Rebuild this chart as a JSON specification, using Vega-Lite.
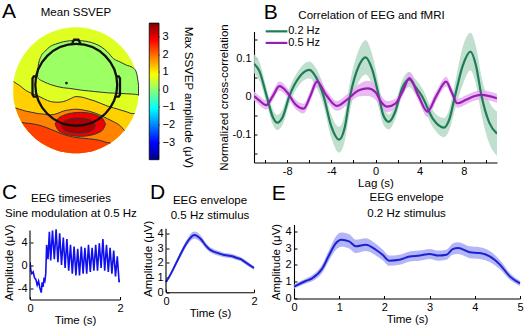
{
"$schema":"https://vega.github.io/schema/vega-lite/v6.json",
"padding":{"left":2,"top":0.5,"right":0,"bottom":0},
"config":{
 "font":"Liberation Sans",
 "view":{"stroke":null},
 "axis":{"labelFontSize":11,"titleFontSize":11.5,"titleFontWeight":"normal","labelColor":"#000","titleColor":"#000","domainColor":"#000","tickColor":"#000","domainWidth":1.1,"tickWidth":1,"tickSize":-3,"labelPadding":6,"grid":false,"labelFlush":false,"labelOverlap":false,"labelBound":false,"titlePadding":2}
},
"datasets":{
 "topo":[
  {"r":"band1","x":-0.99,"lo":-0.141,"hi":0.14,"v":1.2},
  {"r":"band1","x":-0.95,"lo":-0.312,"hi":0.11,"v":1.2},
  {"r":"band1","x":-0.9,"lo":-0.436,"hi":0.08,"v":1.2},
  {"r":"band1","x":-0.8,"lo":-0.6,"hi":0.0,"v":1.2},
  {"r":"band1","x":-0.7,"lo":-0.714,"hi":-0.05,"v":1.2},
  {"r":"band1","x":-0.6,"lo":-0.8,"hi":-0.09,"v":1.2},
  {"r":"band1","x":-0.5,"lo":-0.866,"hi":-0.14,"v":1.2},
  {"r":"band1","x":-0.4,"lo":-0.917,"hi":-0.18,"v":1.2},
  {"r":"band1","x":-0.3,"lo":-0.954,"hi":-0.19,"v":1.2},
  {"r":"band1","x":-0.2,"lo":-0.98,"hi":-0.18,"v":1.2},
  {"r":"band1","x":-0.1,"lo":-0.995,"hi":-0.14,"v":1.2},
  {"r":"band1","x":0.0,"lo":-1.0,"hi":-0.1,"v":1.2},
  {"r":"band1","x":0.1,"lo":-0.995,"hi":-0.11,"v":1.2},
  {"r":"band1","x":0.2,"lo":-0.98,"hi":-0.14,"v":1.2},
  {"r":"band1","x":0.3,"lo":-0.954,"hi":-0.17,"v":1.2},
  {"r":"band1","x":0.4,"lo":-0.917,"hi":-0.21,"v":1.2},
  {"r":"band1","x":0.5,"lo":-0.866,"hi":-0.25,"v":1.2},
  {"r":"band1","x":0.6,"lo":-0.8,"hi":-0.28,"v":1.2},
  {"r":"band1","x":0.7,"lo":-0.714,"hi":-0.31,"v":1.2},
  {"r":"band1","x":0.8,"lo":-0.6,"hi":-0.34,"v":1.2},
  {"r":"band1","x":0.9,"lo":-0.436,"hi":-0.37,"v":1.2},
  {"r":"band1","x":0.93,"lo":-0.367,"hi":-0.367,"v":1.2},
  {"r":"band2","x":-0.96,"lo":-0.28,"hi":-0.28,"v":1.8},
  {"r":"band2","x":-0.9,"lo":-0.436,"hi":-0.3,"v":1.8},
  {"r":"band2","x":-0.8,"lo":-0.6,"hi":-0.33,"v":1.8},
  {"r":"band2","x":-0.7,"lo":-0.714,"hi":-0.35,"v":1.8},
  {"r":"band2","x":-0.6,"lo":-0.8,"hi":-0.37,"v":1.8},
  {"r":"band2","x":-0.5,"lo":-0.866,"hi":-0.38,"v":1.8},
  {"r":"band2","x":-0.4,"lo":-0.917,"hi":-0.39,"v":1.8},
  {"r":"band2","x":-0.3,"lo":-0.954,"hi":-0.37,"v":1.8},
  {"r":"band2","x":-0.2,"lo":-0.98,"hi":-0.33,"v":1.8},
  {"r":"band2","x":-0.1,"lo":-0.995,"hi":-0.31,"v":1.8},
  {"r":"band2","x":0.0,"lo":-1.0,"hi":-0.3,"v":1.8},
  {"r":"band2","x":0.1,"lo":-0.995,"hi":-0.31,"v":1.8},
  {"r":"band2","x":0.2,"lo":-0.98,"hi":-0.33,"v":1.8},
  {"r":"band2","x":0.3,"lo":-0.954,"hi":-0.36,"v":1.8},
  {"r":"band2","x":0.4,"lo":-0.917,"hi":-0.4,"v":1.8},
  {"r":"band2","x":0.5,"lo":-0.866,"hi":-0.45,"v":1.8},
  {"r":"band2","x":0.6,"lo":-0.8,"hi":-0.5,"v":1.8},
  {"r":"band2","x":0.7,"lo":-0.714,"hi":-0.56,"v":1.8},
  {"r":"band2","x":0.77,"lo":-0.638,"hi":-0.638,"v":1.8},
  {"r":"band3","x":-0.86,"lo":-0.51,"hi":-0.51,"v":2.3},
  {"r":"band3","x":-0.8,"lo":-0.6,"hi":-0.52,"v":2.3},
  {"r":"band3","x":-0.7,"lo":-0.714,"hi":-0.53,"v":2.3},
  {"r":"band3","x":-0.6,"lo":-0.8,"hi":-0.55,"v":2.3},
  {"r":"band3","x":-0.5,"lo":-0.866,"hi":-0.58,"v":2.3},
  {"r":"band3","x":-0.4,"lo":-0.917,"hi":-0.62,"v":2.3},
  {"r":"band3","x":-0.3,"lo":-0.954,"hi":-0.66,"v":2.3},
  {"r":"band3","x":-0.2,"lo":-0.98,"hi":-0.7,"v":2.3},
  {"r":"band3","x":-0.1,"lo":-0.995,"hi":-0.73,"v":2.3},
  {"r":"band3","x":0.0,"lo":-1.0,"hi":-0.75,"v":2.3},
  {"r":"band3","x":0.1,"lo":-0.995,"hi":-0.76,"v":2.3},
  {"r":"band3","x":0.2,"lo":-0.98,"hi":-0.77,"v":2.3},
  {"r":"band3","x":0.3,"lo":-0.954,"hi":-0.78,"v":2.3},
  {"r":"band3","x":0.4,"lo":-0.917,"hi":-0.8,"v":2.3},
  {"r":"band3","x":0.5,"lo":-0.866,"hi":-0.83,"v":2.3},
  {"r":"band3","x":0.55,"lo":-0.835,"hi":-0.835,"v":2.3},
  {"r":"green","x":-0.61,"lo":0.22,"hi":0.22,"v":0.1},
  {"r":"green","x":-0.6,"lo":0.19,"hi":0.38,"v":0.1},
  {"r":"green","x":-0.55,"lo":0.155,"hi":0.55,"v":0.1},
  {"r":"green","x":-0.5,"lo":0.13,"hi":0.61,"v":0.1},
  {"r":"green","x":-0.4,"lo":0.09,"hi":0.7,"v":0.1},
  {"r":"green","x":-0.3,"lo":0.06,"hi":0.74,"v":0.1},
  {"r":"green","x":-0.2,"lo":0.04,"hi":0.77,"v":0.1},
  {"r":"green","x":-0.1,"lo":0.03,"hi":0.785,"v":0.1},
  {"r":"green","x":0.0,"lo":0.015,"hi":0.79,"v":0.1},
  {"r":"green","x":0.1,"lo":0.0,"hi":0.785,"v":0.1},
  {"r":"green","x":0.2,"lo":-0.01,"hi":0.77,"v":0.1},
  {"r":"green","x":0.3,"lo":-0.02,"hi":0.74,"v":0.1},
  {"r":"green","x":0.4,"lo":-0.03,"hi":0.69,"v":0.1},
  {"r":"green","x":0.5,"lo":-0.04,"hi":0.61,"v":0.1},
  {"r":"green","x":0.6,"lo":-0.045,"hi":0.5,"v":0.1},
  {"r":"green","x":0.7,"lo":-0.05,"hi":0.45,"v":0.1},
  {"r":"green","x":0.8,"lo":-0.055,"hi":0.4,"v":0.1},
  {"r":"green","x":0.9,"lo":-0.06,"hi":0.36,"v":0.1},
  {"r":"green","x":0.95,"lo":-0.065,"hi":0.31,"v":0.1},
  {"r":"green","x":0.98,"lo":-0.07,"hi":0.19,"v":0.1},
  {"r":"green","x":0.995,"lo":-0.08,"hi":0.08,"v":0.1},
  {"r":"blobO","x":-0.33,"lo":-0.54,"hi":-0.54,"v":2.9},
  {"r":"blobO","x":-0.29,"lo":-0.623,"hi":-0.457,"v":2.9},
  {"r":"blobO","x":-0.21,"lo":-0.676,"hi":-0.404,"v":2.9},
  {"r":"blobO","x":-0.13,"lo":-0.705,"hi":-0.375,"v":2.9},
  {"r":"blobO","x":-0.05,"lo":-0.721,"hi":-0.359,"v":2.9},
  {"r":"blobO","x":0.07,"lo":-0.73,"hi":-0.35,"v":2.9},
  {"r":"blobO","x":0.19,"lo":-0.721,"hi":-0.359,"v":2.9},
  {"r":"blobO","x":0.27,"lo":-0.705,"hi":-0.375,"v":2.9},
  {"r":"blobO","x":0.35,"lo":-0.676,"hi":-0.404,"v":2.9},
  {"r":"blobO","x":0.43,"lo":-0.623,"hi":-0.457,"v":2.9},
  {"r":"blobO","x":0.47,"lo":-0.54,"hi":-0.54,"v":2.9},
  {"r":"blobI","x":-0.23,"lo":-0.56,"hi":-0.56,"v":3.4},
  {"r":"blobI","x":-0.203,"lo":-0.612,"hi":-0.508,"v":3.4},
  {"r":"blobI","x":-0.149,"lo":-0.646,"hi":-0.474,"v":3.4},
  {"r":"blobI","x":-0.095,"lo":-0.664,"hi":-0.456,"v":3.4},
  {"r":"blobI","x":-0.041,"lo":-0.674,"hi":-0.446,"v":3.4},
  {"r":"blobI","x":0.04,"lo":-0.68,"hi":-0.44,"v":3.4},
  {"r":"blobI","x":0.121,"lo":-0.674,"hi":-0.446,"v":3.4},
  {"r":"blobI","x":0.175,"lo":-0.664,"hi":-0.456,"v":3.4},
  {"r":"blobI","x":0.229,"lo":-0.646,"hi":-0.474,"v":3.4},
  {"r":"blobI","x":0.283,"lo":-0.612,"hi":-0.508,"v":3.4},
  {"r":"blobI","x":0.31,"lo":-0.56,"hi":-0.56,"v":3.4}
 ],
 "head":[
  {"p":"nose","i":0,"x":-0.065,"y":0.732},
  {"p":"nose","i":1,"x":-0.03,"y":0.805},
  {"p":"nose","i":2,"x":0.04,"y":0.805},
  {"p":"nose","i":3,"x":0.075,"y":0.732},
  {"p":"earL","i":0,"x":-0.636,"y":0.22},
  {"p":"earL","i":1,"x":-0.67,"y":0.22},
  {"p":"earL","i":2,"x":-0.69,"y":0.19},
  {"p":"earL","i":3,"x":-0.69,"y":-0.07},
  {"p":"earL","i":4,"x":-0.67,"y":-0.1},
  {"p":"earL","i":5,"x":-0.623,"y":-0.1},
  {"p":"earR","i":0,"x":0.646,"y":0.22},
  {"p":"earR","i":1,"x":0.68,"y":0.22},
  {"p":"earR","i":2,"x":0.7,"y":0.19},
  {"p":"earR","i":3,"x":0.7,"y":-0.07},
  {"p":"earR","i":4,"x":0.68,"y":-0.1},
  {"p":"earR","i":5,"x":0.633,"y":-0.1}
 ],
 "xcorr":[
  {"s":"0.2 Hz","x":-11,"y":0.085,"lo":0.06,"hi":0.11},
  {"s":"0.2 Hz","x":-10.5,"y":0.065,"lo":0.041,"hi":0.089},
  {"s":"0.2 Hz","x":-9.9,"y":0.005,"lo":-0.015,"hi":0.025},
  {"s":"0.2 Hz","x":-9.3,"y":-0.055,"lo":-0.075,"hi":-0.035},
  {"s":"0.2 Hz","x":-8.9,"y":-0.07,"lo":-0.09,"hi":-0.05},
  {"s":"0.2 Hz","x":-8.4,"y":-0.055,"lo":-0.075,"hi":-0.035},
  {"s":"0.2 Hz","x":-7.8,"y":0.0,"lo":-0.02,"hi":0.02},
  {"s":"0.2 Hz","x":-6.9,"y":0.05,"lo":0.03,"hi":0.07},
  {"s":"0.2 Hz","x":-6.0,"y":0.069,"lo":0.047,"hi":0.091},
  {"s":"0.2 Hz","x":-5.3,"y":0.045,"lo":0.021,"hi":0.069},
  {"s":"0.2 Hz","x":-4.7,"y":0.0,"lo":-0.026,"hi":0.026},
  {"s":"0.2 Hz","x":-4.0,"y":-0.08,"lo":-0.11,"hi":-0.05},
  {"s":"0.2 Hz","x":-3.3,"y":-0.115,"lo":-0.149,"hi":-0.081},
  {"s":"0.2 Hz","x":-2.8,"y":-0.085,"lo":-0.121,"hi":-0.049},
  {"s":"0.2 Hz","x":-2.3,"y":0.0,"lo":-0.038,"hi":0.038},
  {"s":"0.2 Hz","x":-1.5,"y":0.08,"lo":0.038,"hi":0.122},
  {"s":"0.2 Hz","x":-0.9,"y":0.102,"lo":0.057,"hi":0.147},
  {"s":"0.2 Hz","x":-0.3,"y":0.07,"lo":0.03,"hi":0.11},
  {"s":"0.2 Hz","x":0.3,"y":0.0,"lo":-0.03,"hi":0.03},
  {"s":"0.2 Hz","x":0.7,"y":-0.05,"lo":-0.074,"hi":-0.026},
  {"s":"0.2 Hz","x":1.2,"y":-0.068,"lo":-0.088,"hi":-0.048},
  {"s":"0.2 Hz","x":1.8,"y":-0.04,"lo":-0.06,"hi":-0.02},
  {"s":"0.2 Hz","x":2.4,"y":0.02,"lo":0.0,"hi":0.04},
  {"s":"0.2 Hz","x":3.07,"y":0.044,"lo":0.024,"hi":0.064},
  {"s":"0.2 Hz","x":3.6,"y":0.025,"lo":0.005,"hi":0.045},
  {"s":"0.2 Hz","x":4.2,"y":0.0,"lo":-0.022,"hi":0.022},
  {"s":"0.2 Hz","x":5.2,"y":-0.06,"lo":-0.082,"hi":-0.038},
  {"s":"0.2 Hz","x":6.2,"y":-0.083,"lo":-0.108,"hi":-0.058},
  {"s":"0.2 Hz","x":6.7,"y":-0.06,"lo":-0.088,"hi":-0.032},
  {"s":"0.2 Hz","x":7.2,"y":0.0,"lo":-0.035,"hi":0.035},
  {"s":"0.2 Hz","x":7.9,"y":0.08,"lo":0.03,"hi":0.13},
  {"s":"0.2 Hz","x":8.6,"y":0.117,"lo":0.067,"hi":0.167},
  {"s":"0.2 Hz","x":9.1,"y":0.08,"lo":0.03,"hi":0.13},
  {"s":"0.2 Hz","x":9.6,"y":0.0,"lo":-0.05,"hi":0.05},
  {"s":"0.2 Hz","x":10.3,"y":-0.07,"lo":-0.125,"hi":-0.015},
  {"s":"0.2 Hz","x":11,"y":-0.099,"lo":-0.157,"hi":-0.041},
  {"s":"0.5 Hz","x":-11,"y":0.0,"lo":-0.012,"hi":0.012},
  {"s":"0.5 Hz","x":-10.5,"y":-0.012,"lo":-0.024,"hi":0.0},
  {"s":"0.5 Hz","x":-9.9,"y":-0.024,"lo":-0.036,"hi":-0.012},
  {"s":"0.5 Hz","x":-9.3,"y":0.0,"lo":-0.012,"hi":0.012},
  {"s":"0.5 Hz","x":-8.7,"y":0.026,"lo":0.014,"hi":0.038},
  {"s":"0.5 Hz","x":-8.0,"y":0.01,"lo":-0.002,"hi":0.022},
  {"s":"0.5 Hz","x":-7.3,"y":-0.02,"lo":-0.032,"hi":-0.008},
  {"s":"0.5 Hz","x":-6.5,"y":-0.033,"lo":-0.046,"hi":-0.02},
  {"s":"0.5 Hz","x":-5.9,"y":0.0,"lo":-0.014,"hi":0.014},
  {"s":"0.5 Hz","x":-5.3,"y":0.038,"lo":0.023,"hi":0.053},
  {"s":"0.5 Hz","x":-4.4,"y":0.0,"lo":-0.014,"hi":0.014},
  {"s":"0.5 Hz","x":-3.5,"y":-0.026,"lo":-0.039,"hi":-0.013},
  {"s":"0.5 Hz","x":-2.6,"y":-0.01,"lo":-0.024,"hi":0.004},
  {"s":"0.5 Hz","x":-1.5,"y":0.015,"lo":-0.001,"hi":0.031},
  {"s":"0.5 Hz","x":-0.7,"y":0.02,"lo":0.0,"hi":0.04},
  {"s":"0.5 Hz","x":0.0,"y":0.01,"lo":-0.01,"hi":0.03},
  {"s":"0.5 Hz","x":0.5,"y":-0.015,"lo":-0.033,"hi":0.003},
  {"s":"0.5 Hz","x":1.05,"y":-0.028,"lo":-0.043,"hi":-0.013},
  {"s":"0.5 Hz","x":1.8,"y":-0.02,"lo":-0.033,"hi":-0.007},
  {"s":"0.5 Hz","x":2.5,"y":0.015,"lo":0.002,"hi":0.028},
  {"s":"0.5 Hz","x":3.07,"y":0.047,"lo":0.032,"hi":0.062},
  {"s":"0.5 Hz","x":3.9,"y":0.0,"lo":-0.014,"hi":0.014},
  {"s":"0.5 Hz","x":4.7,"y":-0.041,"lo":-0.055,"hi":-0.027},
  {"s":"0.5 Hz","x":5.5,"y":0.0,"lo":-0.013,"hi":0.013},
  {"s":"0.5 Hz","x":6.4,"y":0.038,"lo":0.025,"hi":0.051},
  {"s":"0.5 Hz","x":6.9,"y":0.01,"lo":-0.002,"hi":0.022},
  {"s":"0.5 Hz","x":7.4,"y":-0.019,"lo":-0.031,"hi":-0.007},
  {"s":"0.5 Hz","x":8.2,"y":-0.01,"lo":-0.022,"hi":0.002},
  {"s":"0.5 Hz","x":9.0,"y":0.0,"lo":-0.012,"hi":0.012},
  {"s":"0.5 Hz","x":9.6,"y":0.003,"lo":-0.009,"hi":0.015},
  {"s":"0.5 Hz","x":10.3,"y":0.0,"lo":-0.012,"hi":0.012},
  {"s":"0.5 Hz","x":11,"y":-0.006,"lo":-0.018,"hi":0.006}
 ],
 "eeg":[
  {"t":0.0,"a":0.5},{"t":0.02,"a":-1.0},{"t":0.04,"a":-1.5},{"t":0.07,"a":-1.2},{"t":0.1,"a":-2.2},
  {"t":0.13,"a":-2.5},{"t":0.16,"a":-3.5},{"t":0.19,"a":-2.8},{"t":0.22,"a":-4.0},{"t":0.25,"a":-4.8},
  {"t":0.27,"a":-3.0},{"t":0.29,"a":-3.8},{"t":0.31,"a":-2.5},{"t":0.33,"a":-2.8},{"t":0.35,"a":-1.5},
  {"t":0.37,"a":3.5},{"t":0.4,"a":1.0},{"t":0.43,"a":5.8},{"t":0.46,"a":0.8},{"t":0.5,"a":6.0},
  {"t":0.54,"a":1.0},{"t":0.58,"a":6.2},{"t":0.62,"a":0.5},{"t":0.66,"a":5.5},{"t":0.7,"a":0.0},
  {"t":0.74,"a":4.8},{"t":0.78,"a":-0.5},{"t":0.82,"a":4.5},{"t":0.86,"a":-1.0},{"t":0.9,"a":3.5},
  {"t":0.94,"a":-1.5},{"t":0.98,"a":3.2},{"t":1.02,"a":-1.8},{"t":1.06,"a":2.8},{"t":1.1,"a":-1.8},
  {"t":1.14,"a":3.2},{"t":1.18,"a":-1.5},{"t":1.22,"a":3.0},{"t":1.26,"a":-1.5},{"t":1.3,"a":3.5},
  {"t":1.34,"a":-1.2},{"t":1.38,"a":3.0},{"t":1.42,"a":-1.0},{"t":1.46,"a":3.5},{"t":1.5,"a":-1.0},
  {"t":1.54,"a":3.8},{"t":1.58,"a":-0.5},{"t":1.62,"a":4.5},{"t":1.66,"a":-1.0},{"t":1.7,"a":3.5},
  {"t":1.74,"a":-1.2},{"t":1.78,"a":3.0},{"t":1.82,"a":-1.5},{"t":1.86,"a":2.5},{"t":1.9,"a":-2.0},
  {"t":1.94,"a":1.5},{"t":1.98,"a":-3.0},{"t":2.0,"a":-2.5}
 ],
 "envD":[
  {"t":0.0,"y":0.7,"lo":0.58,"hi":0.82},{"t":0.1,"y":1.2,"lo":1.07,"hi":1.33},{"t":0.2,"y":1.8,"lo":1.65,"hi":1.95},
  {"t":0.3,"y":2.4,"lo":2.23,"hi":2.57},{"t":0.4,"y":3.0,"lo":2.8,"hi":3.2},{"t":0.5,"y":3.5,"lo":3.28,"hi":3.72},
  {"t":0.6,"y":3.85,"lo":3.6,"hi":4.1},{"t":0.65,"y":3.9,"lo":3.65,"hi":4.15},{"t":0.7,"y":3.85,"lo":3.6,"hi":4.1},
  {"t":0.8,"y":3.6,"lo":3.38,"hi":3.82},{"t":0.9,"y":3.2,"lo":3.0,"hi":3.4},{"t":1.0,"y":2.9,"lo":2.72,"hi":3.08},
  {"t":1.1,"y":2.75,"lo":2.58,"hi":2.92},{"t":1.2,"y":2.65,"lo":2.49,"hi":2.81},{"t":1.3,"y":2.55,"lo":2.4,"hi":2.7},
  {"t":1.4,"y":2.5,"lo":2.35,"hi":2.65},{"t":1.5,"y":2.45,"lo":2.3,"hi":2.6},{"t":1.6,"y":2.35,"lo":2.2,"hi":2.5},
  {"t":1.7,"y":2.25,"lo":2.11,"hi":2.39},{"t":1.8,"y":2.05,"lo":1.91,"hi":2.19},{"t":1.9,"y":1.85,"lo":1.72,"hi":1.98},
  {"t":2.0,"y":1.65,"lo":1.52,"hi":1.78}
 ],
 "envE":[
  {"t":0.0,"y":0.7,"lo":0.58,"hi":0.82},{"t":0.26,"y":1.04,"lo":0.89,"hi":1.19},{"t":0.4,"y":1.2,"lo":1.02,"hi":1.38},
  {"t":0.63,"y":1.8,"lo":1.55,"hi":2.05},{"t":0.78,"y":2.6,"lo":2.28,"hi":2.92},{"t":0.93,"y":3.3,"lo":2.9,"hi":3.7},
  {"t":1.04,"y":3.5,"lo":3.08,"hi":3.92},{"t":1.22,"y":3.4,"lo":2.98,"hi":3.82},{"t":1.37,"y":3.1,"lo":2.7,"hi":3.5},
  {"t":1.59,"y":3.2,"lo":2.82,"hi":3.58},{"t":1.81,"y":2.9,"lo":2.55,"hi":3.25},{"t":1.96,"y":2.6,"lo":2.28,"hi":2.92},
  {"t":2.11,"y":2.25,"lo":1.95,"hi":2.55},{"t":2.33,"y":2.3,"lo":2.0,"hi":2.6},{"t":2.56,"y":2.5,"lo":2.2,"hi":2.8},
  {"t":2.78,"y":2.55,"lo":2.25,"hi":2.85},{"t":3.0,"y":2.65,"lo":2.35,"hi":2.95},{"t":3.19,"y":2.55,"lo":2.25,"hi":2.85},
  {"t":3.37,"y":2.6,"lo":2.3,"hi":2.9},{"t":3.52,"y":2.95,"lo":2.62,"hi":3.28},{"t":3.63,"y":3.0,"lo":2.65,"hi":3.35},
  {"t":3.89,"y":2.75,"lo":2.4,"hi":3.1},{"t":4.11,"y":2.7,"lo":2.35,"hi":3.05},{"t":4.33,"y":2.5,"lo":2.17,"hi":2.83},
  {"t":4.56,"y":2.0,"lo":1.72,"hi":2.28},{"t":4.78,"y":1.3,"lo":1.1,"hi":1.5},{"t":5.0,"y":0.9,"lo":0.75,"hi":1.05}
 ]
},
"spacing":-8,
"vconcat":[
 {"hconcat":[
  {"width":146,"height":131,
   "layer":[
    {"layer":[
     {"data":{"values":[{}]},"mark":{"type":"point","filled":true,"size":15876,"strokeWidth":0,"opacity":1,"shape":"circle"},
      "encoding":{"x":{"datum":0,"type":"quantitative","scale":{"domain":[-1,1.32],"nice":false,"zero":false},"axis":null},
                  "y":{"datum":0,"type":"quantitative","scale":{"domain":[-1.146,0.933],"nice":false,"zero":false},"axis":null},
                  "color":{"datum":0.6,"type":"quantitative","scale":{"type":"linear","domain":[-4,-3.03,-1.09,0.85,2.79,3.76],"range":["#00008f","#0000ff","#00ffff","#ffff00","#ff0000","#800000"],"interpolate":"rgb"},"legend":null}}},
     {"data":{"name":"topo"},"transform":[{"filter":"datum.r==='band1'"}],"mark":{"type":"area","interpolate":"monotone"},
      "encoding":{"x":{"field":"x","type":"quantitative","scale":{"domain":[-1,1.32],"nice":false,"zero":false},"axis":null},
                  "y":{"field":"lo","type":"quantitative","scale":{"domain":[-1.146,0.933],"nice":false,"zero":false},"axis":null,"stack":null},"y2":{"field":"hi"},
                  "color":{"field":"v","type":"quantitative","scale":{"type":"linear","domain":[-4,-3.03,-1.09,0.85,2.79,3.76],"range":["#00008f","#0000ff","#00ffff","#ffff00","#ff0000","#800000"],"interpolate":"rgb"},"legend":null}}},
     {"data":{"name":"topo"},"transform":[{"filter":"datum.r==='band2'"}],"mark":{"type":"area","interpolate":"monotone"},
      "encoding":{"x":{"field":"x","type":"quantitative","scale":{"domain":[-1,1.32],"nice":false,"zero":false},"axis":null},
                  "y":{"field":"lo","type":"quantitative","scale":{"domain":[-1.146,0.933],"nice":false,"zero":false},"axis":null,"stack":null},"y2":{"field":"hi"},
                  "color":{"field":"v","type":"quantitative","scale":{"type":"linear","domain":[-4,-3.03,-1.09,0.85,2.79,3.76],"range":["#00008f","#0000ff","#00ffff","#ffff00","#ff0000","#800000"],"interpolate":"rgb"},"legend":null}}},
     {"data":{"name":"topo"},"transform":[{"filter":"datum.r==='band3'"}],"mark":{"type":"area","interpolate":"monotone"},
      "encoding":{"x":{"field":"x","type":"quantitative","scale":{"domain":[-1,1.32],"nice":false,"zero":false},"axis":null},
                  "y":{"field":"lo","type":"quantitative","scale":{"domain":[-1.146,0.933],"nice":false,"zero":false},"axis":null,"stack":null},"y2":{"field":"hi"},
                  "color":{"field":"v","type":"quantitative","scale":{"type":"linear","domain":[-4,-3.03,-1.09,0.85,2.79,3.76],"range":["#00008f","#0000ff","#00ffff","#ffff00","#ff0000","#800000"],"interpolate":"rgb"},"legend":null}}},
     {"data":{"name":"topo"},"transform":[{"filter":"datum.r==='green'"}],"mark":{"type":"area","interpolate":"monotone","stroke":"#333","strokeWidth":1},
      "encoding":{"x":{"field":"x","type":"quantitative","scale":{"domain":[-1,1.32],"nice":false,"zero":false},"axis":null},
                  "y":{"field":"lo","type":"quantitative","scale":{"domain":[-1.146,0.933],"nice":false,"zero":false},"axis":null,"stack":null},"y2":{"field":"hi"},
                  "color":{"field":"v","type":"quantitative","scale":{"type":"linear","domain":[-4,-3.03,-1.09,0.85,2.79,3.76],"range":["#00008f","#0000ff","#00ffff","#ffff00","#ff0000","#800000"],"interpolate":"rgb"},"legend":null}}},
     {"data":{"name":"topo"},"transform":[{"filter":"datum.r==='blobO'"}],"mark":{"type":"area","interpolate":"monotone","stroke":"#333","strokeWidth":1},
      "encoding":{"x":{"field":"x","type":"quantitative","scale":{"domain":[-1,1.32],"nice":false,"zero":false},"axis":null},
                  "y":{"field":"lo","type":"quantitative","scale":{"domain":[-1.146,0.933],"nice":false,"zero":false},"axis":null,"stack":null},"y2":{"field":"hi"},
                  "color":{"field":"v","type":"quantitative","scale":{"type":"linear","domain":[-4,-3.03,-1.09,0.85,2.79,3.76],"range":["#00008f","#0000ff","#00ffff","#ffff00","#ff0000","#800000"],"interpolate":"rgb"},"legend":null}}},
     {"data":{"name":"topo"},"transform":[{"filter":"datum.r==='blobI'"}],"mark":{"type":"area","interpolate":"monotone","stroke":"#333","strokeWidth":1},
      "encoding":{"x":{"field":"x","type":"quantitative","scale":{"domain":[-1,1.32],"nice":false,"zero":false},"axis":null},
                  "y":{"field":"lo","type":"quantitative","scale":{"domain":[-1.146,0.933],"nice":false,"zero":false},"axis":null,"stack":null},"y2":{"field":"hi"},
                  "color":{"field":"v","type":"quantitative","scale":{"type":"linear","domain":[-4,-3.03,-1.09,0.85,2.79,3.76],"range":["#00008f","#0000ff","#00ffff","#ffff00","#ff0000","#800000"],"interpolate":"rgb"},"legend":null}}},
     {"data":{"name":"topo"},"transform":[{"filter":"datum.r==='band1' || datum.r==='band2' || datum.r==='band3'"}],"mark":{"type":"line","color":"#333","strokeWidth":1,"interpolate":"monotone"},
      "encoding":{"x":{"field":"x","type":"quantitative","scale":{"domain":[-1,1.32],"nice":false,"zero":false},"axis":null},
                  "y":{"field":"hi","type":"quantitative","scale":{"domain":[-1.146,0.933],"nice":false,"zero":false},"axis":null},
                  "detail":{"field":"r","type":"nominal"}}},
     {"data":{"values":[{}]},"mark":{"type":"point","filled":false,"size":6708,"strokeWidth":2.3,"color":"#111","opacity":1,"shape":"circle"},
      "encoding":{"x":{"datum":0.005,"type":"quantitative","scale":{"domain":[-1,1.32],"nice":false,"zero":false},"axis":null},
                  "y":{"datum":0.087,"type":"quantitative","scale":{"domain":[-1.146,0.933],"nice":false,"zero":false},"axis":null}}},
     {"data":{"name":"head"},"mark":{"type":"line","color":"#111","strokeWidth":2.3},
      "encoding":{"x":{"field":"x","type":"quantitative","scale":{"domain":[-1,1.32],"nice":false,"zero":false},"axis":null},
                  "y":{"field":"y","type":"quantitative","scale":{"domain":[-1.146,0.933],"nice":false,"zero":false},"axis":null},
                  "detail":{"field":"p","type":"nominal"},"order":{"field":"i","type":"quantitative"}}},
     {"data":{"values":[{}]},"mark":{"type":"point","filled":true,"size":8,"color":"#222","opacity":1},
      "encoding":{"x":{"datum":-0.15,"type":"quantitative","scale":{"domain":[-1,1.32],"nice":false,"zero":false},"axis":null},
                  "y":{"datum":0.114,"type":"quantitative","scale":{"domain":[-1.146,0.933],"nice":false,"zero":false},"axis":null}}},
     {"data":{"values":[{}]},"mark":{"type":"text","text":"A","fontSize":21,"align":"left","baseline":"alphabetic"},
      "encoding":{"x":{"datum":-1.1746,"type":"quantitative","scale":{"domain":[-1,1.32],"nice":false,"zero":false},"axis":null},
                  "y":{"datum":1.143,"type":"quantitative","scale":{"domain":[-1.146,0.933],"nice":false,"zero":false},"axis":null}}},
     {"data":{"values":[{}]},"mark":{"type":"text","text":"Mean SSVEP","fontSize":11.5,"align":"center","baseline":"alphabetic"},
      "encoding":{"x":{"datum":0,"type":"quantitative","scale":{"domain":[-1,1.32],"nice":false,"zero":false},"axis":null},
                  "y":{"datum":1.175,"type":"quantitative","scale":{"domain":[-1.146,0.933],"nice":false,"zero":false},"axis":null}}}
    ]},
    {"data":{"values":[{}]},
     "mark":{"type":"rect","fill":{"x1":0,"y1":1,"x2":0,"y2":0,"gradient":"linear","stops":[{"offset":0,"color":"#00008f"},{"offset":0.125,"color":"#0000ff"},{"offset":0.375,"color":"#00ffff"},{"offset":0.625,"color":"#ffff00"},{"offset":0.875,"color":"#ff0000"},{"offset":1,"color":"#800000"}]},"stroke":"#000","strokeWidth":0.8},
     "encoding":{"x":{"datum":1.165,"type":"quantitative","scale":{"domain":[-1,1.32],"nice":false,"zero":false},"axis":null},"x2":{"datum":1.32},
                 "y":{"datum":-4,"type":"quantitative","scale":{"domain":[-4.159,3.284],"nice":false,"zero":false},
                      "axis":{"orient":"right","values":[-3,-2,-1,0,1,2,3],"format":"d","title":"Max SSVEP amplitude (μV)","titleAngle":90,"titlePadding":8,"domain":false,"labelPadding":6,"tickSize":-3,"labelOverlap":false}},
                 "y2":{"datum":3.76}}}
   ],
   "resolve":{"scale":{"y":"independent"},"axis":{"y":"independent"}}
  },
  {"width":94.3,"height":1,"data":{"values":[]},"mark":"point"},
  {"width":243,"height":131,
   "layer":[
    {"data":{"name":"xcorr"},"mark":{"type":"area","interpolate":"monotone","clip":true,"fillOpacity":0.85},
     "encoding":{"x":{"field":"x","type":"quantitative","scale":{"domain":[-11,11],"nice":false,"zero":false},
                      "axis":{"values":[-10,-8,-6,-4,-2,0,2,4,6,8,10],"format":"d","labelOverlap":false,"labelExpr":"datum.value % 4 === 0 ? replace(datum.label, '\u2212', '-') : ''","title":"Lag (s)","titlePadding":1}},
                 "y":{"field":"lo","type":"quantitative","stack":null,"scale":{"domain":[-0.175,0.17],"nice":false,"zero":false},
                      "axis":{"values":[-0.15,-0.1,-0.05,0,0.05,0.1,0.15],"format":"~g","labelOverlap":false,"labelExpr":"abs(datum.value) < 0.001 || abs(abs(datum.value) - 0.1) < 0.001 ? replace(datum.label, '\u2212', '-') : ''","title":"Normalized cross-correlation","titlePadding":3}},
                 "y2":{"field":"hi"},
                 "fill":{"field":"s","type":"nominal","scale":{"domain":["0.2 Hz","0.5 Hz"],"range":["#b5d9c7","#e6aef0"]},"legend":null}}},
    {"data":{"name":"xcorr"},"mark":{"type":"line","interpolate":"monotone","clip":true,"strokeWidth":2.2},
     "encoding":{"x":{"field":"x","type":"quantitative","scale":{"domain":[-11,11],"nice":false,"zero":false},
                      "axis":{"values":[-10,-8,-6,-4,-2,0,2,4,6,8,10],"format":"d","labelOverlap":false,"labelExpr":"datum.value % 4 === 0 ? replace(datum.label, '\u2212', '-') : ''","title":"Lag (s)","titlePadding":1}},
                 "y":{"field":"y","type":"quantitative","scale":{"domain":[-0.175,0.17],"nice":false,"zero":false},
                      "axis":{"values":[-0.15,-0.1,-0.05,0,0.05,0.1,0.15],"format":"~g","labelOverlap":false,"labelExpr":"abs(datum.value) < 0.001 || abs(abs(datum.value) - 0.1) < 0.001 ? replace(datum.label, '\u2212', '-') : ''","title":"Normalized cross-correlation","titlePadding":3}},
                 "color":{"field":"s","type":"nominal","scale":{"domain":["0.2 Hz","0.5 Hz"],"range":["#1c7d57","#961eb4"]},"legend":null}}},
    {"data":{"values":[{}]},"mark":{"type":"rule","strokeWidth":2.2},
     "encoding":{"x":{"datum":-9.94,"type":"quantitative","scale":{"domain":[-11,11],"nice":false,"zero":false},
                      "axis":{"values":[-10,-8,-6,-4,-2,0,2,4,6,8,10],"format":"d","labelOverlap":false,"labelExpr":"datum.value % 4 === 0 ? replace(datum.label, '\u2212', '-') : ''","title":"Lag (s)","titlePadding":1}},
                 "x2":{"datum":-7.98},
                 "y":{"datum":0.1704,"type":"quantitative","scale":{"domain":[-0.175,0.17],"nice":false,"zero":false},
                      "axis":{"values":[-0.15,-0.1,-0.05,0,0.05,0.1,0.15],"format":"~g","labelOverlap":false,"labelExpr":"abs(datum.value) < 0.001 || abs(abs(datum.value) - 0.1) < 0.001 ? replace(datum.label, '\u2212', '-') : ''","title":"Normalized cross-correlation","titlePadding":3}},
                 "color":{"datum":"0.2 Hz","type":"nominal","scale":{"domain":["0.2 Hz","0.5 Hz"],"range":["#1c7d57","#961eb4"]},"legend":null}}},
    {"data":{"values":[{}]},"mark":{"type":"rule","strokeWidth":2.2},
     "encoding":{"x":{"datum":-9.94,"type":"quantitative","scale":{"domain":[-11,11],"nice":false,"zero":false},
                      "axis":{"values":[-10,-8,-6,-4,-2,0,2,4,6,8,10],"format":"d","labelOverlap":false,"labelExpr":"datum.value % 4 === 0 ? replace(datum.label, '\u2212', '-') : ''","title":"Lag (s)","titlePadding":1}},
                 "x2":{"datum":-7.98},
                 "y":{"datum":0.1399,"type":"quantitative","scale":{"domain":[-0.175,0.17],"nice":false,"zero":false},
                      "axis":{"values":[-0.15,-0.1,-0.05,0,0.05,0.1,0.15],"format":"~g","labelOverlap":false,"labelExpr":"abs(datum.value) < 0.001 || abs(abs(datum.value) - 0.1) < 0.001 ? replace(datum.label, '\u2212', '-') : ''","title":"Normalized cross-correlation","titlePadding":3}},
                 "color":{"datum":"0.5 Hz","type":"nominal","scale":{"domain":["0.2 Hz","0.5 Hz"],"range":["#1c7d57","#961eb4"]},"legend":null}}},
    {"data":{"values":[{}]},"mark":{"type":"text","text":"0.2 Hz","fontSize":11,"align":"left","baseline":"middle"},
     "encoding":{"x":{"datum":-7.9,"type":"quantitative","scale":{"domain":[-11,11],"nice":false,"zero":false},
                      "axis":{"values":[-10,-8,-6,-4,-2,0,2,4,6,8,10],"format":"d","labelOverlap":false,"labelExpr":"datum.value % 4 === 0 ? replace(datum.label, '\u2212', '-') : ''","title":"Lag (s)","titlePadding":1}},
                 "y":{"datum":0.1704,"type":"quantitative","scale":{"domain":[-0.175,0.17],"nice":false,"zero":false},
                      "axis":{"values":[-0.15,-0.1,-0.05,0,0.05,0.1,0.15],"format":"~g","labelOverlap":false,"labelExpr":"abs(datum.value) < 0.001 || abs(abs(datum.value) - 0.1) < 0.001 ? replace(datum.label, '\u2212', '-') : ''","title":"Normalized cross-correlation","titlePadding":3}}}},
    {"data":{"values":[{}]},"mark":{"type":"text","text":"0.5 Hz","fontSize":11,"align":"left","baseline":"middle"},
     "encoding":{"x":{"datum":-7.9,"type":"quantitative","scale":{"domain":[-11,11],"nice":false,"zero":false},
                      "axis":{"values":[-10,-8,-6,-4,-2,0,2,4,6,8,10],"format":"d","labelOverlap":false,"labelExpr":"datum.value % 4 === 0 ? replace(datum.label, '\u2212', '-') : ''","title":"Lag (s)","titlePadding":1}},
                 "y":{"datum":0.1399,"type":"quantitative","scale":{"domain":[-0.175,0.17],"nice":false,"zero":false},
                      "axis":{"values":[-0.15,-0.1,-0.05,0,0.05,0.1,0.15],"format":"~g","labelOverlap":false,"labelExpr":"abs(datum.value) < 0.001 || abs(abs(datum.value) - 0.1) < 0.001 ? replace(datum.label, '\u2212', '-') : ''","title":"Normalized cross-correlation","titlePadding":3}}}},
    {"data":{"values":[{}]},"mark":{"type":"text","text":"B","fontSize":21,"align":"left","baseline":"alphabetic"},
     "encoding":{"x":{"datum":-10.12,"type":"quantitative","scale":{"domain":[-11,11],"nice":false,"zero":false},
                      "axis":{"values":[-10,-8,-6,-4,-2,0,2,4,6,8,10],"format":"d","labelOverlap":false,"labelExpr":"datum.value % 4 === 0 ? replace(datum.label, '\u2212', '-') : ''","title":"Lag (s)","titlePadding":1}},
                 "y":{"datum":0.204,"type":"quantitative","scale":{"domain":[-0.175,0.17],"nice":false,"zero":false},
                      "axis":{"values":[-0.15,-0.1,-0.05,0,0.05,0.1,0.15],"format":"~g","labelOverlap":false,"labelExpr":"abs(datum.value) < 0.001 || abs(abs(datum.value) - 0.1) < 0.001 ? replace(datum.label, '\u2212', '-') : ''","title":"Normalized cross-correlation","titlePadding":3}}}},
    {"data":{"values":[{}]},"mark":{"type":"text","text":"Correlation of EEG and fMRI","fontSize":11.5,"align":"center","baseline":"alphabetic"},
     "encoding":{"x":{"datum":-0.36,"type":"quantitative","scale":{"domain":[-11,11],"nice":false,"zero":false},
                      "axis":{"values":[-10,-8,-6,-4,-2,0,2,4,6,8,10],"format":"d","labelOverlap":false,"labelExpr":"datum.value % 4 === 0 ? replace(datum.label, '\u2212', '-') : ''","title":"Lag (s)","titlePadding":1}},
                 "y":{"datum":0.204,"type":"quantitative","scale":{"domain":[-0.175,0.17],"nice":false,"zero":false},
                      "axis":{"values":[-0.15,-0.1,-0.05,0,0.05,0.1,0.15],"format":"~g","labelOverlap":false,"labelExpr":"abs(datum.value) < 0.001 || abs(abs(datum.value) - 0.1) < 0.001 ? replace(datum.label, '\u2212', '-') : ''","title":"Normalized cross-correlation","titlePadding":3}}}}
   ]}
 ],"spacing":0,"bounds":"flush"},
 {"hconcat":[
  {"width":17,"height":1,"data":{"values":[]},"mark":"point"},
  {"width":90,"height":75,
   "layer":[
    {"data":{"name":"eeg"},"mark":{"type":"line","color":"#1010ee","strokeWidth":1.6,"clip":true},
     "encoding":{"x":{"field":"t","type":"quantitative","scale":{"domain":[0,2],"nice":false,"zero":false},
                      "axis":{"values":[0,0.5,1,1.5,2],"format":"d","labelOverlap":false,"labelExpr":"datum.value % 1 === 0 ? datum.label : ''","title":"Time (s)","titlePadding":1}},
                 "y":{"field":"a","type":"quantitative","scale":{"domain":[-6,7.05],"nice":false,"zero":false},
                      "axis":{"values":[-4,0,4],"format":"d","domain":false,"labelOverlap":false,"labelExpr":"replace(datum.label, '\u2212', '-')","title":"Amplitude (μV)","titlePadding":3}}}},
    {"data":{"values":[{}]},"mark":{"type":"rule","color":"#000","strokeWidth":1.1},
     "encoding":{"x":{"datum":0,"type":"quantitative","scale":{"domain":[0,2],"nice":false,"zero":false},
                      "axis":{"values":[0,0.5,1,1.5,2],"format":"d","labelOverlap":false,"labelExpr":"datum.value % 1 === 0 ? datum.label : ''","title":"Time (s)","titlePadding":1}},
                 "y":{"datum":-6,"type":"quantitative","scale":{"domain":[-6,7.05],"nice":false,"zero":false},
                      "axis":{"values":[-4,0,4],"format":"d","domain":false,"labelOverlap":false,"labelExpr":"replace(datum.label, '\u2212', '-')","title":"Amplitude (μV)","titlePadding":3}},"y2":{"datum":6}}},
    {"data":{"values":[{}]},"mark":{"type":"text","text":"C","fontSize":21,"align":"left","baseline":"alphabetic"},
     "encoding":{"x":{"datum":-0.62,"type":"quantitative","scale":{"domain":[0,2],"nice":false,"zero":false},
                      "axis":{"values":[0,0.5,1,1.5,2],"format":"d","labelOverlap":false,"labelExpr":"datum.value % 1 === 0 ? datum.label : ''","title":"Time (s)","titlePadding":1}},
                 "y":{"datum":11.57,"type":"quantitative","scale":{"domain":[-6,7.05],"nice":false,"zero":false},
                      "axis":{"values":[-4,0,4],"format":"d","domain":false,"labelOverlap":false,"labelExpr":"replace(datum.label, '\u2212', '-')","title":"Amplitude (μV)","titlePadding":3}}}},
    {"data":{"values":[{}]},"mark":{"type":"text","text":["EEG timeseries","Sine modulation at 0.5 Hz"],"lineHeight":15.5,"fontSize":11.5,"align":"center","baseline":"alphabetic"},
     "encoding":{"x":{"datum":0.91,"type":"quantitative","scale":{"domain":[0,2],"nice":false,"zero":false},
                      "axis":{"values":[0,0.5,1,1.5,2],"format":"d","labelOverlap":false,"labelExpr":"datum.value % 1 === 0 ? datum.label : ''","title":"Time (s)","titlePadding":1}},
                 "y":{"datum":11.04,"type":"quantitative","scale":{"domain":[-6,7.05],"nice":false,"zero":false},
                      "axis":{"values":[-4,0,4],"format":"d","domain":false,"labelOverlap":false,"labelExpr":"replace(datum.label, '\u2212', '-')","title":"Amplitude (μV)","titlePadding":3}}}}
   ]},
  {"width":46,"height":1,"data":{"values":[]},"mark":"point"},
  {"width":88,"height":67.7,
   "layer":[
    {"data":{"name":"envD"},"mark":{"type":"area","color":"#b3b5f5","interpolate":"monotone"},
     "encoding":{"x":{"field":"t","type":"quantitative","scale":{"domain":[0,2],"nice":false,"zero":false},
                      "axis":{"values":[0,0.5,1,1.5,2],"format":"d","labelOverlap":false,"labelExpr":"datum.value % 1 === 0 ? datum.label : ''","title":"Time (s)","titlePadding":1}},
                 "y":{"field":"lo","type":"quantitative","stack":null,"scale":{"domain":[0,4.62],"nice":false,"zero":false},
                      "axis":{"values":[0,1,2,3,4],"format":"d","domain":false,"labelOverlap":false,"title":"Amplitude (μV)","titlePadding":3}},
                 "y2":{"field":"hi"}}},
    {"data":{"name":"envD"},"mark":{"type":"line","color":"#1c22d4","strokeWidth":2,"interpolate":"monotone"},
     "encoding":{"x":{"field":"t","type":"quantitative","scale":{"domain":[0,2],"nice":false,"zero":false},
                      "axis":{"values":[0,0.5,1,1.5,2],"format":"d","labelOverlap":false,"labelExpr":"datum.value % 1 === 0 ? datum.label : ''","title":"Time (s)","titlePadding":1}},
                 "y":{"field":"y","type":"quantitative","scale":{"domain":[0,4.62],"nice":false,"zero":false},
                      "axis":{"values":[0,1,2,3,4],"format":"d","domain":false,"labelOverlap":false,"title":"Amplitude (μV)","titlePadding":3}}}},
    {"data":{"values":[{}]},"mark":{"type":"rule","color":"#000","strokeWidth":1.1},
     "encoding":{"x":{"datum":0,"type":"quantitative","scale":{"domain":[0,2],"nice":false,"zero":false},
                      "axis":{"values":[0,0.5,1,1.5,2],"format":"d","labelOverlap":false,"labelExpr":"datum.value % 1 === 0 ? datum.label : ''","title":"Time (s)","titlePadding":1}},
                 "y":{"datum":0,"type":"quantitative","scale":{"domain":[0,4.62],"nice":false,"zero":false},
                      "axis":{"values":[0,1,2,3,4],"format":"d","domain":false,"labelOverlap":false,"title":"Amplitude (μV)","titlePadding":3}},"y2":{"datum":4.33}}},
    {"data":{"values":[{}]},"mark":{"type":"text","text":"D","fontSize":21,"align":"left","baseline":"alphabetic"},
     "encoding":{"x":{"datum":-0.364,"type":"quantitative","scale":{"domain":[0,2],"nice":false,"zero":false},
                      "axis":{"values":[0,0.5,1,1.5,2],"format":"d","labelOverlap":false,"labelExpr":"datum.value % 1 === 0 ? datum.label : ''","title":"Time (s)","titlePadding":1}},
                 "y":{"datum":6.37,"type":"quantitative","scale":{"domain":[0,4.62],"nice":false,"zero":false},
                      "axis":{"values":[0,1,2,3,4],"format":"d","domain":false,"labelOverlap":false,"title":"Amplitude (μV)","titlePadding":3}}}},
    {"data":{"values":[{}]},"mark":{"type":"text","text":["EEG envelope","0.5 Hz stimulus"],"lineHeight":15.5,"fontSize":11.5,"align":"center","baseline":"alphabetic"},
     "encoding":{"x":{"datum":1.0,"type":"quantitative","scale":{"domain":[0,2],"nice":false,"zero":false},
                      "axis":{"values":[0,0.5,1,1.5,2],"format":"d","labelOverlap":false,"labelExpr":"datum.value % 1 === 0 ? datum.label : ''","title":"Time (s)","titlePadding":1}},
                 "y":{"datum":6.03,"type":"quantitative","scale":{"domain":[0,4.62],"nice":false,"zero":false},
                      "axis":{"values":[0,1,2,3,4],"format":"d","domain":false,"labelOverlap":false,"title":"Amplitude (μV)","titlePadding":3}}}}
   ]},
  {"width":39.3,"height":1,"data":{"values":[]},"mark":"point"},
  {"width":226,"height":74,
   "layer":[
    {"data":{"name":"envE"},"mark":{"type":"area","color":"#b3b5f5","interpolate":"monotone"},
     "encoding":{"x":{"field":"t","type":"quantitative","scale":{"domain":[0,5],"nice":false,"zero":false},
                      "axis":{"values":[0,0.5,1,1.5,2,2.5,3,3.5,4,4.5,5],"format":"d","labelOverlap":false,"labelExpr":"datum.value % 1 === 0 ? datum.label : ''","title":"Time (s)","titlePadding":1}},
                 "y":{"field":"lo","type":"quantitative","stack":null,"scale":{"domain":[0,4.4],"nice":false,"zero":false},
                      "axis":{"values":[0,1,2,3,4],"format":"d","labelOverlap":false,"title":"Amplitude (μV)","titlePadding":3}},
                 "y2":{"field":"hi"}}},
    {"data":{"name":"envE"},"mark":{"type":"line","color":"#1c22d4","strokeWidth":2,"interpolate":"monotone"},
     "encoding":{"x":{"field":"t","type":"quantitative","scale":{"domain":[0,5],"nice":false,"zero":false},
                      "axis":{"values":[0,0.5,1,1.5,2,2.5,3,3.5,4,4.5,5],"format":"d","labelOverlap":false,"labelExpr":"datum.value % 1 === 0 ? datum.label : ''","title":"Time (s)","titlePadding":1}},
                 "y":{"field":"y","type":"quantitative","scale":{"domain":[0,4.4],"nice":false,"zero":false},
                      "axis":{"values":[0,1,2,3,4],"format":"d","labelOverlap":false,"title":"Amplitude (μV)","titlePadding":3}}}},
    {"data":{"values":[{}]},"mark":{"type":"text","text":"E","fontSize":21,"align":"left","baseline":"alphabetic"},
     "encoding":{"x":{"datum":-0.493,"type":"quantitative","scale":{"domain":[0,5],"nice":false,"zero":false},
                      "axis":{"values":[0,0.5,1,1.5,2,2.5,3,3.5,4,4.5,5],"format":"d","labelOverlap":false,"labelExpr":"datum.value % 1 === 0 ? datum.label : ''","title":"Time (s)","titlePadding":1}},
                 "y":{"datum":5.83,"type":"quantitative","scale":{"domain":[0,4.4],"nice":false,"zero":false},
                      "axis":{"values":[0,1,2,3,4],"format":"d","labelOverlap":false,"title":"Amplitude (μV)","titlePadding":3}}}},
    {"data":{"values":[{}]},"mark":{"type":"text","text":["EEG envelope","0.2 Hz stimulus"],"lineHeight":15.5,"fontSize":11.5,"align":"center","baseline":"alphabetic"},
     "encoding":{"x":{"datum":2.49,"type":"quantitative","scale":{"domain":[0,5],"nice":false,"zero":false},
                      "axis":{"values":[0,0.5,1,1.5,2,2.5,3,3.5,4,4.5,5],"format":"d","labelOverlap":false,"labelExpr":"datum.value % 1 === 0 ? datum.label : ''","title":"Time (s)","titlePadding":1}},
                 "y":{"datum":5.77,"type":"quantitative","scale":{"domain":[0,4.4],"nice":false,"zero":false},
                      "axis":{"values":[0,1,2,3,4],"format":"d","labelOverlap":false,"title":"Amplitude (μV)","titlePadding":3}}}}
   ]}
 ],"spacing":0,"bounds":"flush"}
]
}
